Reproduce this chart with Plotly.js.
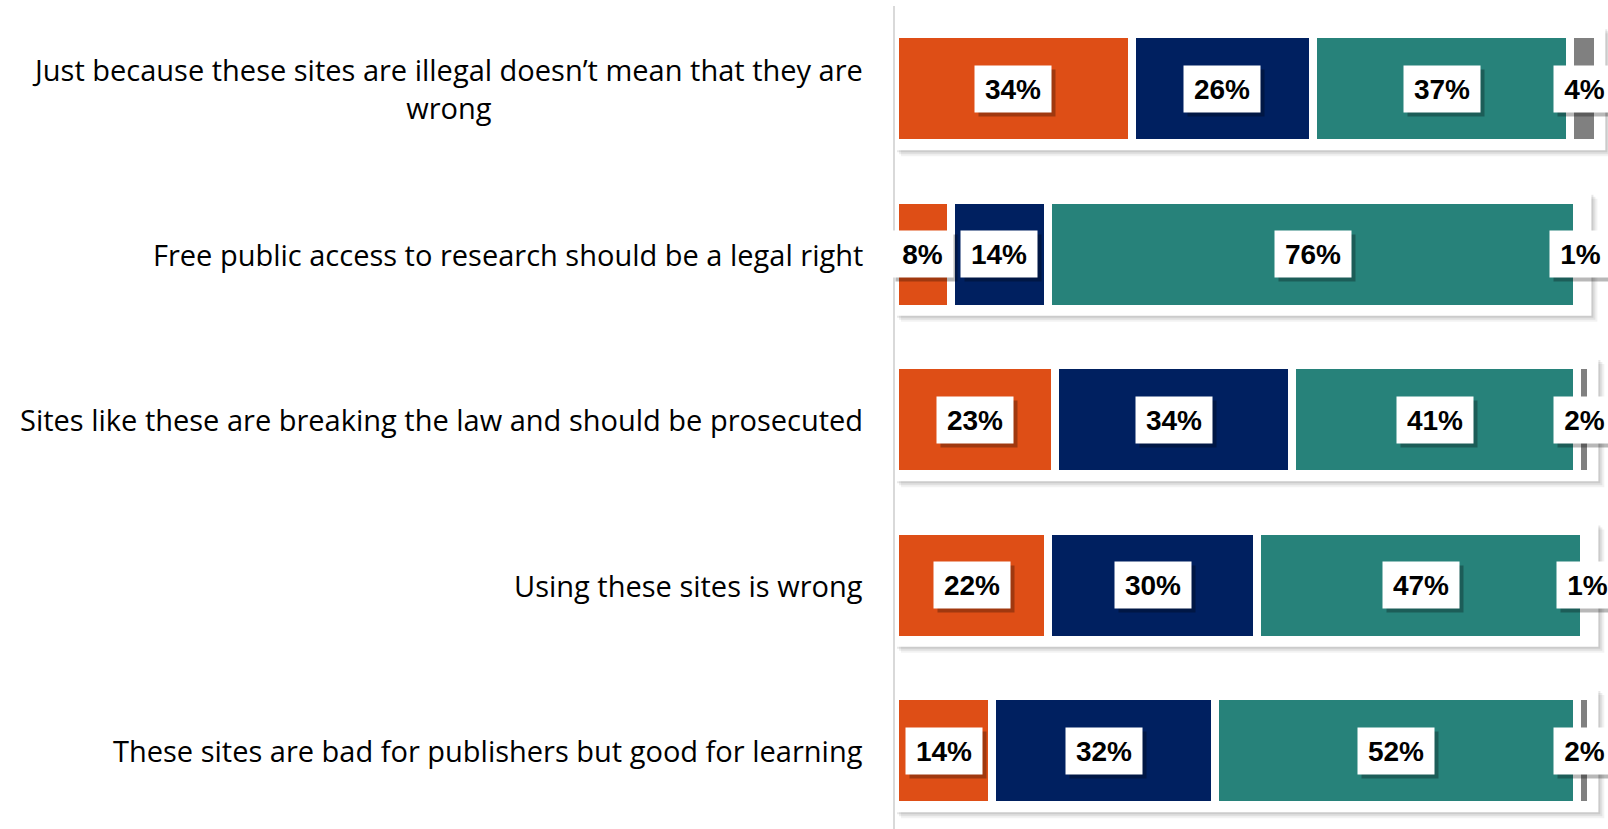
<!DOCTYPE html>
<html>
<head>
<meta charset="utf-8">
<script src="https://cdn.plot.ly/plotly-3.0.1.min.js"></script>
<style>
  html, body { margin: 0; padding: 0; overflow: hidden; background: #ffffff; }
  #chart { width: 1661px; height: 829px; }
</style>
</head>
<body>
<div id="chart"></div>
<script>
// ---- Data ----
const categories = [
  "Just because these sites are illegal doesn’t mean that they are<br>wrong",
  "Free public access to research should be a legal right",
  "Sites like these are breaking the law and should be prosecuted",
  "Using these sites is wrong",
  "These sites are bad for publishers but good for learning"
];
const seriesNames = ["Disagree", "Neutral", "Agree", "Don't know"];
const disagree = [34, 8, 23, 22, 14];
const neutral  = [26, 14, 34, 30, 32];
const agree    = [37, 76, 41, 47, 52];
const dontKnow = [4, 1, 2, 1, 2];

// ---- Styles ----
const colors = ["#DE4E16", "#002060", "#27827A", "#808080"];
const seriesValues = [disagree, neutral, agree, dontKnow];
const yIdx = categories.map((_, i) => i);

const W = 1661, H = 829;
const margin = {l: 895, r: 0, t: 6, b: 0};
const xRange = [0, 110];
const yRange = [4.473, -0.5];
const barWidth = 0.66;
const pxPerX = (W - margin.l - margin.r) / (xRange[1] - xRange[0]);
const pxPerY = (H - margin.t - margin.b) / Math.abs(yRange[0] - yRange[1]);

const traces = seriesValues.map((vals, s) => ({
  type: "bar",
  orientation: "h",
  name: seriesNames[s],
  x: vals,
  y: yIdx,
  width: barWidth,
  marker: {color: colors[s], line: {color: "#ffffff", width: 8}},
  hoverinfo: "x",
  showlegend: false
}));

// frames + shadows behind each row
const shapes = [];
yIdx.forEach(i => {
  const total = seriesValues.reduce((a, v) => a + v[i], 0);
  const ext = 7 / pxPerX;
  const extY = 7 / pxPerY;
  const x0 = 0, x1 = total + ext;
  const y0 = i - barWidth / 2 - extY, y1 = i + barWidth / 2 + extY;
  [[6, 0.05], [4, 0.07], [2, 0.09]].forEach(([off, a]) => {
    shapes.push({
      type: "rect", layer: "below", xref: "x", yref: "y",
      x0: x0 + off / pxPerX, x1: x1 + off / pxPerX,
      y0: y0 + off / pxPerY, y1: y1 + off / pxPerY,
      fillcolor: "rgba(0,0,0," + a + ")", line: {width: 0}
    });
  });
  shapes.push({
    type: "rect", layer: "below", xref: "x", yref: "y",
    x0: x0, x1: x1, y0: y0, y1: y1,
    fillcolor: "#ffffff", line: {width: 0}
  });
});

// labels: shadow boxes drawn as empty fixed-size annotations, then labels on top
const shadowAnn = [], labelAnn = [];
const lblFont = {family: "Liberation Sans, Arial, sans-serif", size: 28, color: "#000000", weight: "bold"};
yIdx.forEach(i => {
  let cum = 0;
  seriesValues.forEach(vals => {
    const v = vals[i];
    const mid = cum + v / 2;
    cum += v;
    const txt = v + "%";
    const digits = String(v).length;
    const boxW = Math.round(15.6 * digits + 24.9 + 20);
    const base = {
      x: mid, y: i, xref: "x", yref: "y", showarrow: false,
      xanchor: "center", yanchor: "middle", borderpad: 0,
      width: boxW, height: 46
    };
    shadowAnn.push(Object.assign({}, base, {
      text: " ", font: lblFont, bgcolor: "rgba(0,0,0,0.28)", xshift: 4, yshift: -4
    }));
    labelAnn.push(Object.assign({}, base, {
      text: txt, font: lblFont, bgcolor: "#ffffff"
    }));
  });
});

const catAnn = categories.map((c, i) => ({
  x: 0, xref: "paper", y: i, yref: "y", text: c, showarrow: false,
  xanchor: "right", yanchor: "middle", align: "center", xshift: -30,
  font: {family: "'Open Sans', sans-serif", size: 29, color: "#000000"}
}));

const layout = {
  width: W, height: H, margin: margin,
  paper_bgcolor: "#ffffff", plot_bgcolor: "#ffffff",
  barmode: "stack", bargap: 0,
  xaxis: {range: xRange, showgrid: false, zeroline: false, showticklabels: false, showline: false, fixedrange: true},
  yaxis: {range: yRange, showgrid: false, zeroline: false, showticklabels: false,
          showline: true, linecolor: "#D9D9D9", linewidth: 2, fixedrange: true},
  shapes: shapes,
  annotations: catAnn.concat(shadowAnn, labelAnn)
};

Plotly.newPlot("chart", traces, layout, {displayModeBar: false, staticPlot: true});
</script>
</body>
</html>
